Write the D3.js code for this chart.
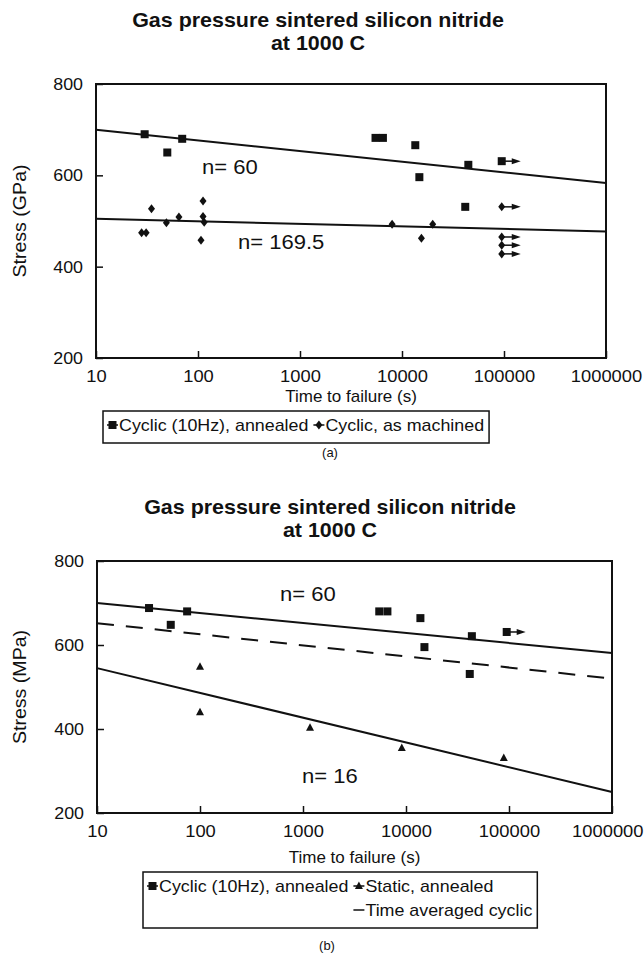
<!DOCTYPE html>
<html lang="en">
  <head>
    <meta charset="utf-8">
    <title>Gas pressure sintered silicon nitride</title>
    <script type="text/javascript" src="https://cdn.jsdelivr.net/npm/d3@7"></script>
    <style>
      body { margin: 0; background: #fff; }
      text { font-family: "Liberation Sans", Arial, sans-serif; fill: #111; }
    </style>
  </head>
  <body>
    <script type="text/javascript">
      var width = 644;
      var height = 959;

      var titleLines = ["Gas pressure sintered silicon nitride", "at 1000 C"];
      var timeTicks = [10, 100, 1000, 10000, 100000, 1000000];
      var stressTicks = [200, 400, 600, 800];

      // panel (a)
      var aCyclicTime = [30, 50, 70, 5500, 6500, 13500, 14800, 44700, 41700, 95000];
      var aCyclicStress = [690, 650, 680, 682, 682, 666, 596, 623, 531, 631];
      var aCyclicRunout = [0, 0, 0, 0, 0, 0, 0, 0, 0, 1];

      var aMachTime = [28, 31, 35, 49, 65, 112, 112, 115, 107, 8000, 15500, 20000, 95000, 95000, 95000, 95000];
      var aMachStress = [474, 474, 527, 496, 509, 544, 510, 497, 458, 493, 462, 493, 531, 465, 447, 428];
      var aMachRunout = [0, 0, 0, 0, 0, 0, 0, 0, 0, 0, 0, 0, 1, 1, 1, 1];

      var aFitTime = [10, 1000000];
      var aFitCyclic = [700, 583];
      var aFitMach = [505, 477];

      // panel (b)
      var bCyclicTime = [32, 52, 75, 5500, 6600, 13800, 15100, 43600, 41600, 95000];
      var bCyclicStress = [688, 648, 680, 680, 680, 664, 595, 621, 531, 631];
      var bCyclicRunout = [0, 0, 0, 0, 0, 0, 0, 0, 0, 1];

      var bStaticTime = [100, 100, 1170, 9100, 89000];
      var bStaticStress = [548, 440, 403, 355, 331];

      var bFitTime = [10, 1000000];
      var bFitCyclic = [700, 581];
      var bFitAveraged = [652, 520];
      var bFitStatic = [545, 250];

      var svg = d3.select("body")
            .append("svg")
            .attr("width", width)
            .attr("height", height);

      function zip(t, s, r) {
        return t.map(function(d, i) { return {t: d, s: s[i], r: r ? r[i] : 0}; });
      }

      // scanned text looks a bit wider than normal, so stretch it sideways
      function stext(parent, x, y, str, size, sx, anchor) {
        return parent.append("text")
          .attr("transform", "translate(" + x + "," + y + ") scale(" + sx + ",1)")
          .attr("text-anchor", anchor || "start")
          .attr("font-size", size + "px")
          .text(str);
      }

      function marker(g, type, x, y) {
        if (type == "square") {
          g.append("rect").attr("x", x - 4).attr("y", y - 4)
           .attr("width", 8).attr("height", 8).attr("fill", "#111");
        } else if (type == "diamond") {
          g.append("path").attr("d", "M" + x + "," + (y - 4.5) + "L" + (x + 3.5) + "," + y +
                                  "L" + x + "," + (y + 4.5) + "L" + (x - 3.5) + "," + y + "Z")
           .attr("fill", "#111");
        } else {
          g.append("path").attr("d", "M" + x + "," + (y - 4.5) + "L" + (x + 4) + "," + (y + 3) +
                                  "L" + (x - 4) + "," + (y + 3) + "Z")
           .attr("fill", "#111");
        }
      }

      function drawPanel(p) {
        var g = svg.append("g");
        var xScale = d3.scaleLog().domain([10, 1000000]).range([p.left, p.right]);
        var yScale = d3.scaleLinear().domain([200, 800]).range([p.bottom, p.top]);

        titleLines.forEach(function(t, i) {
          stext(g, p.titleX, p.titleY + i * 23, t, 19.5, 1.1, "middle")
            .attr("font-weight", "bold");
        });

        var xAxis = d3.axisBottom(xScale)
                      .tickValues(timeTicks)
                      .tickFormat(d3.format("d"))
                      .tickSizeInner(-7)
                      .tickSizeOuter(0)
                      .tickPadding(12);
        var gx = g.append("g").attr("transform", "translate(0," + p.bottom + ")").call(xAxis);
        gx.select(".domain").remove();
        gx.selectAll("line").attr("stroke", "#111").attr("stroke-width", 1.5);
        gx.selectAll("text").attr("font-size", "17px").attr("font-family", null).attr("fill", "#111")
          .attr("transform", "scale(1.08,1)");
        // keep the last label inside the page
        gx.selectAll(".tick").each(function(d) {
          var t = d3.select(this).select("text");
          var half = t.node().getComputedTextLength() * 1.08 / 2;
          var over = xScale(d) + half - (width - 1);
          if (over > 0) t.attr("x", -over / 1.08);
        });

        var yAxis = d3.axisLeft(yScale)
                      .tickValues(stressTicks)
                      .tickSizeInner(-7)
                      .tickSizeOuter(0)
                      .tickPadding(13);
        var gy = g.append("g").attr("transform", "translate(" + p.left + ",0)").call(yAxis);
        gy.select(".domain").remove();
        gy.selectAll("line").attr("stroke", "#111").attr("stroke-width", 1.5);
        gy.selectAll("text").attr("font-size", "17px").attr("font-family", null).attr("fill", "#111")
          .attr("x", -13 / 1.05).attr("transform", "scale(1.05,1)");

        g.append("rect")
         .attr("x", p.left).attr("y", p.top)
         .attr("width", p.right - p.left).attr("height", p.bottom - p.top)
         .attr("fill", "none").attr("stroke", "#111").attr("stroke-width", 2);

        g.append("text")
         .attr("transform", "translate(" + 26 + "," + ((p.top + p.bottom) / 2) + ") rotate(-90) scale(1.12,1)")
         .attr("text-anchor", "middle")
         .attr("font-size", "17.5px")
         .text(p.yLabel);

        stext(g, (p.left + p.right) / 2, p.xLabelY, "Time to failure (s)", 17, 1.0, "middle");

        // fitted lines
        p.fits.forEach(function(f) {
          g.append("line")
           .attr("x1", xScale(f.t[0])).attr("y1", yScale(f.s[0]))
           .attr("x2", xScale(f.t[1])).attr("y2", yScale(f.s[1]))
           .attr("stroke", "#111").attr("stroke-width", 2)
           .attr("stroke-dasharray", f.dash ? "17,12" : null);
        });

        // points
        p.series.forEach(function(se) {
          se.data.forEach(function(d) {
            var x = xScale(d.t), y = yScale(d.s);
            if (d.r) {
              g.append("line").attr("x1", x).attr("y1", y).attr("x2", x + 12).attr("y2", y)
               .attr("stroke", "#111").attr("stroke-width", 1.5);
              g.append("path").attr("d", "M" + (x + 10) + "," + (y - 3) + "L" + (x + 19) + "," + y +
                                      "L" + (x + 10) + "," + (y + 3) + "Z").attr("fill", "#111");
            }
            marker(g, se.type, x, y);
          });
        });

        p.notes.forEach(function(n) {
          stext(g, n.x, n.y, n.text, 19.5, 1.13);
        });

        // legend: entries laid out in columns, like the spreadsheet legend
        var lg = g.append("g");
        var L = p.legend;
        var colX = [L.x + 4];
        var rowEnd = 0;
        L.rows.forEach(function(row, r) {
          row.forEach(function(it, c) {
            if (!it) return;
            var x = colX[c];
            var y = L.y + 20 + r * 24;
            lg.append("line").attr("x1", x).attr("x2", x + 11)
              .attr("y1", y - 6).attr("y2", y - 6)
              .attr("stroke", "#111").attr("stroke-width", 1.5);
            if (it.type) marker(lg, it.type, x + 5.5, y - 6);
            var t = stext(lg, x + 12, y, it.label, 17, 1.05);
            var end = x + 12 + t.node().getComputedTextLength() * 1.05;
            if (colX[c + 1] === undefined) colX[c + 1] = end + 5;
            rowEnd = Math.max(rowEnd, end);
          });
        });
        lg.insert("rect", ":first-child")
          .attr("x", L.x).attr("y", L.y)
          .attr("width", rowEnd + 5 - L.x).attr("height", 8 + L.rows.length * 24)
          .attr("fill", "none").attr("stroke", "#111").attr("stroke-width", 1.5);

        g.append("text")
         .attr("x", p.capX).attr("y", p.capY)
         .attr("text-anchor", "middle")
         .attr("font-size", "13px")
         .attr("font-family", "Liberation Serif, serif")
         .text(p.caption);
      }

      drawPanel({
        top: 84, bottom: 358, left: 96, right: 606,
        titleX: 318, titleY: 27, xLabelY: 402, yLabel: "Stress (GPa)",
        fits: [
          {t: aFitTime, s: aFitCyclic},
          {t: aFitTime, s: aFitMach}
        ],
        series: [
          {type: "diamond", data: zip(aMachTime, aMachStress, aMachRunout)},
          {type: "square", data: zip(aCyclicTime, aCyclicStress, aCyclicRunout)}
        ],
        notes: [
          {x: 202, y: 174, text: "n= 60"},
          {x: 238, y: 249, text: "n= 169.5"}
        ],
        legend: {x: 103, y: 411, rows: [
          [{type: "square", label: "Cyclic (10Hz), annealed"},
           {type: "diamond", label: "Cyclic, as machined"}]
        ]},
        caption: "(a)", capX: 330, capY: 457
      });

      drawPanel({
        top: 561, bottom: 813, left: 97, right: 612,
        titleX: 330, titleY: 514, xLabelY: 863, yLabel: "Stress (MPa)",
        fits: [
          {t: bFitTime, s: bFitCyclic},
          {t: bFitTime, s: bFitAveraged, dash: true},
          {t: bFitTime, s: bFitStatic}
        ],
        series: [
          {type: "square", data: zip(bCyclicTime, bCyclicStress, bCyclicRunout)},
          {type: "triangle", data: zip(bStaticTime, bStaticStress)}
        ],
        notes: [
          {x: 280, y: 601, text: "n= 60"},
          {x: 302, y: 783, text: "n= 16"}
        ],
        legend: {x: 143, y: 872, rows: [
          [{type: "square", label: "Cyclic (10Hz), annealed"},
           {type: "triangle", label: "Static, annealed"}],
          [null, {type: null, label: "Time averaged cyclic"}]
        ]},
        caption: "(b)", capX: 327, capY: 950
      });
    </script>
  </body>
</html>
